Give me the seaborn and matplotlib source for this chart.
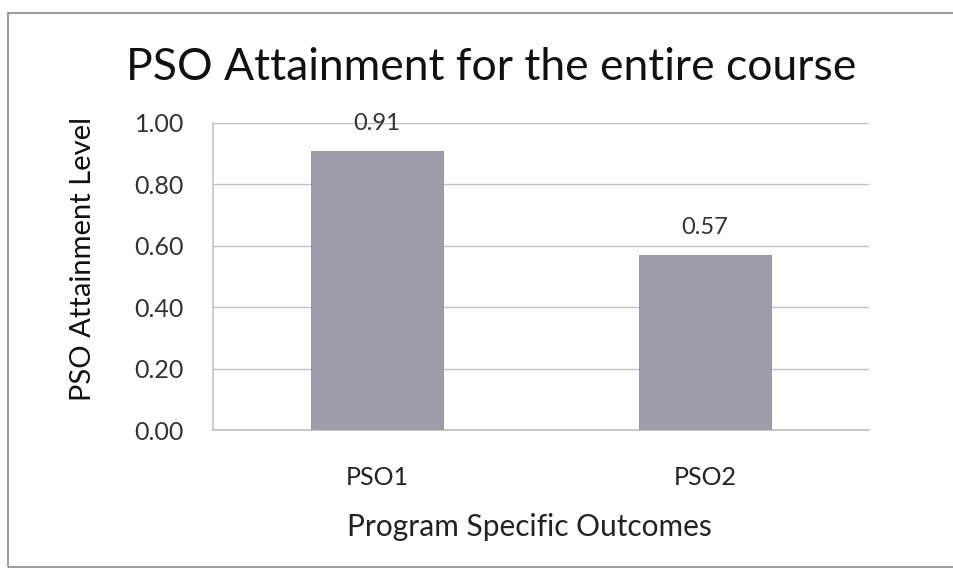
import matplotlib
matplotlib.use("Agg")
import matplotlib.pyplot as plt
from matplotlib.patches import Rectangle
import seaborn as sns
import pandas as pd

# Data
outcomes = ["PSO1", "PSO2"]
attainment = [0.91, 0.57]
y_ticks = [0.0, 0.2, 0.4, 0.6, 0.8, 1.0]

sns.set_theme(style="white")
plt.rcParams["font.family"] = ["Lato", "DejaVu Sans"]

df = pd.DataFrame({"Outcome": outcomes, "Level": attainment})

fig = plt.figure(figsize=(9.54, 5.74), dpi=100)
fig.patch.set_facecolor("white")

# Outer chart frame
fig.patches.append(Rectangle((8 / 954, 1 - 567 / 574), 1.2, (567 - 13) / 574,
                             transform=fig.transFigure, fill=False,
                             edgecolor="#8a8a8a", linewidth=1.2, zorder=0))

ax = fig.add_axes([213 / 954, 1 - 430 / 574, (869 - 213) / 954, (430 - 123) / 574])
sns.barplot(data=df, x="Outcome", y="Level", ax=ax, color="#9d9ca8",
            saturation=1, width=0.4, edgecolor="#8e8d99", linewidth=0.6,
            zorder=3)

ax.set_ylim(0, 1.0)
ax.set_yticks(y_ticks)
ax.set_yticklabels([f"{v:.2f}" for v in y_ticks], fontsize=18, color="#333333")
ax.tick_params(axis="x", labelsize=18, colors="#222222", pad=26, length=0)
ax.tick_params(axis="y", pad=21, length=0)
ax.yaxis.grid(True, color="#c0c0c6", linewidth=1.0, zorder=0)
ax.set_axisbelow(True)
for side in ["top", "right"]:
    ax.spines[side].set_visible(False)
ax.spines["left"].set_color("#c8c8c8")
ax.spines["bottom"].set_color("#c0c0c6")

ax.set_xlabel("Program Specific Outcomes", fontsize=21.5, color="#222222")
ax.xaxis.label.set_va("center")
ax.xaxis.set_label_coords(0.483, -0.316)
ax.set_ylabel("PSO Attainment Level", fontsize=21, color="#111111")
ax.yaxis.label.set_va("center")
ax.yaxis.set_label_coords(-0.198, 0.557)

for i, v in enumerate(attainment):
    ax.annotate(f"{v:.2f}", (i, v), xytext=(0, 19.5), textcoords="offset points",
                ha="center", va="center", fontsize=17, color="#333333")

fig.text(491 / 954, 1 - 68 / 574, "PSO Attainment for the entire course",
         ha="center", va="center", fontsize=32, color="#111111")

fig.savefig("out.png", dpi=100)
